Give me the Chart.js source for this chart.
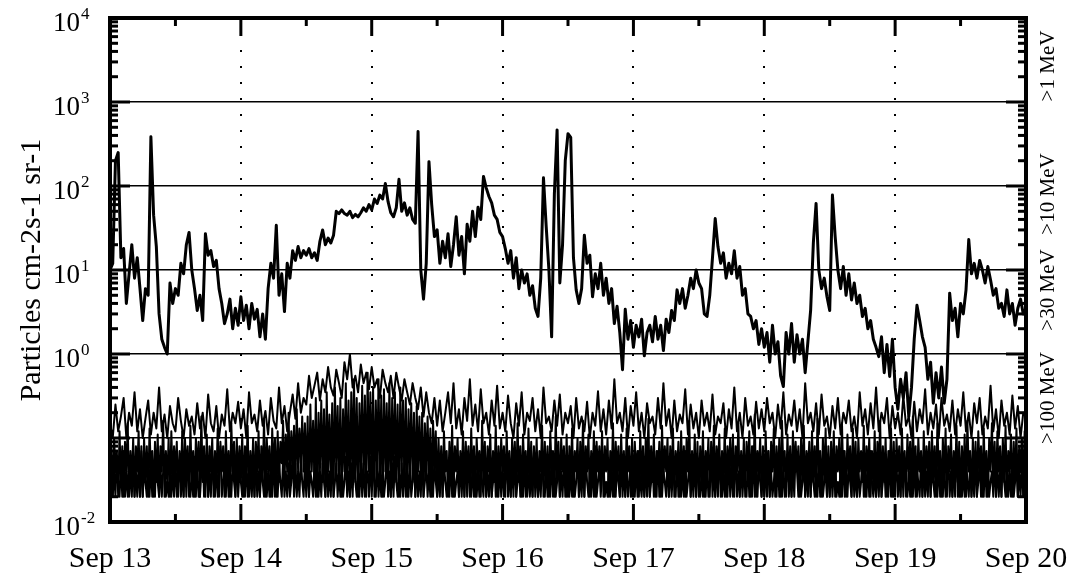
<!DOCTYPE html>
<html>
<head>
<meta charset="utf-8">
<script src="https://cdn.jsdelivr.net/npm/chart.js@4/dist/chart.umd.min.js"></script>
<style>
  html, body { margin: 0; padding: 0; background: #fff; }
  #plot { display: block; }
</style>
</head>
<body>
<canvas id="plot" width="1077" height="577"></canvas>
<script>
// hours from Sep 13 00:00; >1 and >10 MeV every 30 min, >30 and >100 MeV every 15 min
const step = 0.5;
const fineStep = 0.25;

// >1 MeV channel (particles cm-2 s-1 sr-1)
const mev1 = [
  10,12,200,250,14,18,4,9,20,8,14,6,2.5,6,5,385,45,19,3,1.5,1.2,1.0,7,4,
  6,5,12,9,20,28,10,6,3.3,5,2.5,27,15,17,11,13,6,4,2.3,3,4.5,2,3.5,2.2,
  4.8,2.5,3.8,2,4,2.6,3.4,1.6,3,1.5,6,12,8,34,5,9,3.2,12,8,17,13,19,14,17,
  15,18,14,16,13,22,30,20,24,21,26,50,47,52,47,45,50,42,46,43,48,55,50,60,
  52,70,62,78,70,107,65,48,43,55,120,50,63,45,55,40,36,445,10,4.5,12,195,60,25,
  30,12,22,14,27,11,20,43,15,25,9,35,22,50,25,56,40,130,95,75,63,45,40,28,
  25,18,12,17,8,14,6,10,7,9,5,6.5,3.5,2.8,8,125,33,10,1.6,80,465,7,20,200,
  420,380,14,5.8,4,6,26,12,15,4.8,9,6,12,5,8,4,6,2.3,3.7,1.8,0.65,3.4,1.5,2.5,
  1.2,2.2,1.6,2.6,0.95,1.8,2.2,1.4,2.8,1.5,2.2,1.1,2.6,1.8,3.3,2.5,5.8,4,6,3.5,5,8,6,10,
  7,6,3,2.8,5,14,41,19,12,16,8,12,9,17,8,11,5,6,3,2.8,2,2.5,1.3,2,
  1.2,1.8,0.8,2.2,1,1.4,0.55,0.41,1.8,1,2.3,0.8,1.7,1,1.5,0.6,1.4,3.3,21,62,10,6,8,4.8,
  3.3,78,25,10,6,11,5,9,4.4,7,4,5,2.8,3.5,2,2.5,1.5,1.2,0.93,1.6,0.6,1.3,0.54,1.5,
  0.4,0.22,0.5,0.3,0.6,0.18,0.4,1.5,3.8,2.5,1.6,1.2,0.5,0.8,0.26,0.6,0.3,0.7,0.26,0.5,5.3,2.5,3.5,1.6,
  4,3,5.8,23,9,12,8,13,10,7,11,7.6,5,6,3.5,4,2.8,5.8,3,4,2.2,3.5,4.5,3,
  3.5
];

// >10 MeV channel
const mev10 = [
  .15,.1,.25,.12,.18,.3,.1,.2,.14,.35,.12,.22,.1,.17,.28,.11,.2,.13,.4,.12,.19,.1,.24,.15,
  .12,.3,.16,.1,.22,.14,.18,.11,.26,.13,.2,.1,.33,.15,.12,.24,.1,.19,.14,.38,.12,.2,.15,.27,
  .13,.22,.1,.35,.15,.19,.12,.28,.14,.21,.11,.3,.16,.13,.4,.15,.24,.12,.2,.33,.17,.45,.2,.3,
  .25,.55,.3,.42,.6,.28,.5,.35,.7,.4,.32,.65,.45,.3,.8,.5,1.0,.4,.55,.35,.75,.45,.6,.38,
  .7,.4,.5,.3,.65,.45,.35,.55,.3,.6,.4,.28,.5,.35,.25,.45,.3,.22,.4,.18,.35,.2,.15,.3,
  .14,.28,.12,.2,.35,.15,.45,.13,.22,.11,.3,.16,.5,.14,.25,.12,.38,.15,.2,.11,.28,.14,.42,.13,
  .2,.12,.32,.15,.1,.26,.14,.35,.11,.2,.16,.3,.12,.22,.1,.4,.15,.18,.12,.28,.14,.33,.11,.2,
  .15,.24,.1,.3,.13,.18,.12,.27,.1,.2,.14,.36,.12,.22,.11,.28,.13,.5,.15,.2,.12,.3,.1,.24,
  .14,.35,.12,.2,.1,.26,.15,.18,.11,.3,.13,.45,.14,.22,.1,.28,.12,.19,.15,.38,.11,.25,.13,.2,
  .1,.28,.14,.2,.12,.33,.11,.18,.15,.26,.1,.22,.13,.4,.12,.2,.1,.3,.14,.18,.11,.27,.13,.22,
  .12,.3,.15,.2,.1,.25,.13,.35,.11,.19,.14,.28,.12,.22,.1,.45,.15,.2,.12,.26,.11,.33,.14,.18,
  .1,.24,.13,.3,.11,.2,.15,.28,.12,.18,.1,.35,.14,.22,.11,.26,.13,.4,.12,.2,.15,.3,.1,.24,
  .13,.2,.11,.32,.14,.18,.1,.27,.12,.22,.15,.38,.11,.2,.13,.25,.1,.3,.14,.19,.12,.28,.11,.22,
  .14,.35,.12,.2,.1,.26,.15,.3,.11,.18,.13,.42,.12,.22,.1,.28,.14,.2,.11,.32,.13,.24,.1,.2,
  .18
];

// >30 MeV channel (15 min samples)
const mev30 = [
  .03,.08,.02,.1,.04,.07,.02,.12,.03,.08,.02,.09,.04,.15,.02,.07,.03,.1,.02,.08,.04,.12,.02,.07,
  .02,.1,.03,.08,.02,.13,.04,.07,.02,.09,.03,.11,.02,.08,.04,.16,.02,.07,.03,.1,.02,.12,.03,.08,
  .04,.09,.02,.07,.03,.12,.02,.1,.04,.08,.02,.14,.03,.07,.02,.1,.04,.09,.02,.18,.03,.08,.02,.11,
  .02,.08,.04,.1,.02,.07,.03,.13,.02,.09,.04,.08,.02,.12,.03,.07,.02,.15,.04,.09,.02,.1,.03,.08,
  .03,.11,.02,.08,.04,.14,.02,.07,.03,.1,.02,.09,.04,.12,.02,.08,.03,.17,.02,.1,.04,.08,.02,.13,
  .04,.1,.02,.12,.03,.09,.05,.16,.03,.11,.04,.2,.03,.12,.05,.14,.03,.22,.04,.13,.05,.18,.04,.15,
  .03,.18,.02,.25,.04,.16,.03,.3,.02,.2,.04,.28,.03,.22,.02,.35,.04,.19,.03,.26,.02,.4,.04,.24,
  .03,.3,.02,.22,.04,.45,.03,.28,.02,.35,.04,.5,.03,.3,.02,.26,.04,.42,.03,.32,.02,.6,.04,.35,
  .03,.4,.02,.28,.04,.5,.03,.32,.02,.38,.04,.26,.03,.45,.02,.3,.04,.35,.03,.25,.02,.4,.04,.28,
  .03,.3,.02,.22,.04,.26,.03,.2,.02,.24,.04,.18,.03,.2,.02,.15,.04,.18,.03,.13,.02,.16,.04,.12,
  .02,.1,.03,.08,.02,.12,.04,.07,.02,.09,.03,.14,.02,.08,.04,.1,.02,.07,.03,.12,.02,.09,.04,.08,
  .02,.13,.03,.08,.02,.1,.04,.07,.02,.16,.03,.09,.02,.08,.04,.11,.02,.07,.03,.14,.02,.08,.03,.1,
  .04,.08,.02,.12,.03,.07,.02,.1,.04,.09,.02,.15,.03,.08,.02,.11,.04,.07,.02,.13,.03,.09,.02,.08,
  .03,.1,.02,.07,.04,.14,.02,.09,.03,.08,.02,.12,.04,.07,.02,.18,.03,.09,.02,.1,.04,.08,.02,.11,
  .02,.08,.03,.13,.02,.07,.04,.1,.02,.09,.03,.16,.02,.08,.04,.11,.02,.07,.03,.12,.02,.09,.04,.08,
  .03,.12,.02,.08,.04,.1,.02,.07,.03,.15,.02,.09,.04,.08,.02,.11,.03,.07,.02,.13,.04,.08,.02,.1,
  .02,.09,.04,.07,.02,.12,.03,.08,.02,.1,.04,.17,.02,.08,.03,.11,.02,.07,.04,.09,.02,.14,.03,.08,
  .04,.1,.02,.08,.03,.13,.02,.07,.04,.09,.02,.12,.03,.08,.02,.1,.04,.16,.02,.07,.03,.11,.02,.09,
  .02,.08,.03,.12,.02,.07,.04,.1,.02,.09,.03,.14,.02,.08,.04,.11,.02,.07,.03,.13,.02,.08,.04,.1,
  .03,.11,.02,.08,.04,.15,.02,.07,.03,.1,.02,.09,.04,.12,.02,.08,.03,.19,.02,.07,.04,.1,.02,.08,
  .02,.12,.03,.07,.02,.09,.04,.13,.02,.08,.03,.1,.02,.16,.04,.07,.02,.11,.03,.08,.02,.12,.04,.09,
  .04,.08,.02,.1,.03,.14,.02,.07,.04,.09,.02,.12,.03,.08,.02,.17,.04,.07,.02,.1,.03,.13,.02,.08,
  .02,.09,.03,.12,.02,.08,.04,.1,.02,.15,.03,.07,.02,.11,.04,.08,.02,.13,.03,.09,.02,.1,.04,.07,
  .03,.14,.02,.08,.04,.1,.02,.07,.03,.12,.02,.09,.04,.16,.02,.08,.03,.1,.02,.07,.04,.13,.02,.09,
  .02,.1,.04,.08,.02,.13,.03,.07,.02,.11,.04,.09,.02,.18,.03,.08,.02,.1,.04,.07,.02,.12,.03,.08,
  .04,.09,.02,.12,.03,.08,.02,.15,.04,.07,.02,.1,.03,.13,.02,.08,.04,.11,.02,.07,.03,.14,.02,.09,
  .02,.08,.03,.11,.02,.16,.04,.07,.02,.1,.03,.09,.02,.12,.04,.08,.02,.13,.03,.07,.02,.1,.04,.15,
  .03,.09,.02,.12,.04,.08,.02,.1,.03,.14,.02,.07,.04,.11,.02,.09,.03,.13,.02,.08,.04,.1,.02,.12,
  .03
];

// >100 MeV channel (15 min samples)
const mev100 = [
  .02,.05,.02,.04,.02,.06,.03,.02,.05,.02,.07,.02,.04,.02,.05,.03,.02,.06,.02,.04,.02,.05,.02,.08,
  .02,.04,.03,.02,.06,.02,.05,.02,.04,.02,.07,.03,.02,.05,.02,.04,.06,.02,.03,.02,.05,.02,.04,.02,
  .06,.02,.03,.05,.02,.04,.02,.07,.02,.05,.03,.02,.04,.02,.06,.02,.05,.02,.02,.04,.07,.02,.03,.05,
  .02,.04,.02,.06,.03,.02,.05,.02,.04,.08,.02,.03,.05,.02,.06,.02,.04,.02,.05,.03,.02,.07,.02,.04,
  .03,.02,.05,.02,.06,.02,.04,.03,.02,.05,.02,.07,.02,.04,.02,.05,.03,.02,.06,.02,.04,.02,.05,.02,
  .07,.02,.04,.02,.05,.03,.02,.06,.02,.04,.02,.05,.02,.03,.07,.02,.05,.02,.04,.02,.06,.03,.02,.05,
  .02,.06,.02,.04,.03,.02,.05,.02,.07,.02,.04,.02,.05,.03,.02,.06,.02,.04,.02,.08,.02,.03,.05,.02,
  .04,.02,.05,.02,.03,.06,.02,.04,.02,.05,.02,.07,.03,.02,.04,.02,.06,.02,.05,.02,.03,.04,.02,.06,
  .02,.05,.03,.02,.06,.02,.04,.02,.05,.02,.03,.07,.02,.04,.02,.05,.02,.06,.03,.02,.04,.02,.05,.02,
  .06,.02,.04,.02,.05,.02,.03,.06,.02,.05,.02,.04,.02,.07,.02,.03,.05,.02,.04,.02,.06,.02,.05,.03,
  .02,.04,.02,.07,.02,.05,.03,.02,.04,.02,.06,.02,.05,.02,.03,.04,.02,.06,.02,.05,.02,.08,.02,.04,
  .03,.02,.05,.02,.06,.02,.04,.02,.05,.03,.02,.07,.02,.04,.02,.05,.02,.03,.06,.02,.04,.02,.05,.02,
  .05,.02,.03,.06,.02,.04,.02,.05,.02,.07,.02,.03,.05,.02,.04,.02,.06,.02,.05,.03,.02,.04,.02,.07,
  .02,.05,.02,.04,.02,.06,.03,.02,.05,.02,.04,.02,.07,.02,.05,.02,.03,.06,.02,.04,.02,.05,.03,.02,
  .06,.02,.04,.02,.05,.02,.03,.07,.02,.04,.02,.05,.02,.06,.03,.02,.04,.02,.05,.02,.08,.02,.03,.05,
  .02,.04,.06,.02,.03,.02,.05,.02,.04,.02,.07,.02,.05,.03,.02,.06,.02,.04,.02,.05,.02,.03,.06,.02,
  .04,.02,.05,.02,.07,.03,.02,.04,.02,.05,.02,.06,.02,.03,.05,.02,.04,.02,.07,.02,.05,.02,.04,.03,
  .02,.06,.02,.05,.02,.04,.03,.02,.06,.02,.05,.02,.04,.02,.07,.02,.03,.05,.02,.04,.02,.06,.02,.05,
  .03,.02,.04,.02,.06,.02,.05,.02,.03,.07,.02,.04,.02,.05,.02,.06,.03,.02,.04,.02,.05,.02,.07,.02,
  .05,.02,.03,.06,.02,.04,.02,.05,.02,.04,.03,.02,.06,.02,.05,.02,.08,.02,.04,.02,.05,.03,.02,.04,
  .02,.05,.02,.07,.02,.04,.02,.03,.05,.02,.06,.02,.04,.02,.05,.02,.03,.06,.02,.04,.02,.05,.02,.07,
  .04,.02,.06,.02,.03,.05,.02,.04,.02,.07,.02,.05,.03,.02,.04,.02,.06,.02,.05,.02,.03,.04,.02,.06,
  .02,.05,.02,.04,.06,.02,.03,.02,.05,.02,.07,.02,.04,.02,.05,.03,.02,.06,.02,.04,.02,.05,.02,.03,
  .06,.02,.04,.02,.05,.02,.07,.03,.02,.04,.02,.05,.02,.06,.02,.03,.05,.02,.04,.02,.07,.02,.05,.02,
  .03,.05,.02,.04,.02,.06,.02,.05,.03,.02,.04,.02,.07,.02,.05,.02,.04,.03,.02,.06,.02,.05,.02,.04,
  .02,.07,.02,.04,.03,.02,.05,.02,.06,.02,.04,.02,.05,.02,.03,.06,.02,.04,.02,.05,.02,.08,.03,.02,
  .05,.02,.04,.02,.06,.03,.02,.05,.02,.04,.02,.07,.02,.03,.05,.02,.04,.02,.06,.02,.05,.02,.03,.04,
  .02,.06,.02,.05,.02,.04,.02,.07,.03,.02,.05,.02,.04,.02,.06,.02,.03,.05,.02,.04,.02,.05,.02,.06,
  .02
];

const dayLabels = ['Sep 13', 'Sep 14', 'Sep 15', 'Sep 16', 'Sep 17', 'Sep 18', 'Sep 19', 'Sep 20'];
const decades = [1e-2, 1e-1, 1e0, 1e1, 1e2, 1e3, 1e4];
const labelledExponents = [4, 3, 2, 1, 0, -2];
const channelNames = ['>1 MeV', '>10 MeV', '>30 MeV', '>100 MeV'];

const toPoints = (arr, dt) => arr.map((v, i) => ({ x: i * dt, y: v }));

const serif = '"Liberation Serif", "Times New Roman", serif';

function seg(ctx, x1, y1, x2, y2) {
  ctx.beginPath();
  ctx.moveTo(x1, y1);
  ctx.lineTo(x2, y2);
  ctx.stroke();
}

const axesPlugin = {
  id: 'axesPlugin',
  afterDraw(chart) {
    const { ctx, chartArea: a, scales: { x, y } } = chart;
    ctx.save();
    ctx.strokeStyle = '#000';
    ctx.fillStyle = '#000';
    ctx.lineCap = 'butt';

    // x ticks: majors each day, minors at noon, top and bottom
    ctx.lineWidth = 3;
    for (let h = 0; h <= 168; h += 12) {
      const px = x.getPixelForValue(h);
      const len = h % 24 === 0 ? 18 : 8;
      seg(ctx, px, a.bottom, px, a.bottom - len);
      seg(ctx, px, a.top, px, a.top + len);
    }
    // y ticks: decades long, 2..9 short, left and right
    decades.forEach(d => {
      const py = y.getPixelForValue(d);
      seg(ctx, a.left, py, a.left + 20, py);
      seg(ctx, a.right, py, a.right - 20, py);
      if (d < 1e4) {
        for (let k = 2; k <= 9; k++) {
          const pm = y.getPixelForValue(k * d);
          seg(ctx, a.left, pm, a.left + 8, pm);
          seg(ctx, a.right, pm, a.right - 8, pm);
        }
      }
    });

    // frame
    ctx.lineWidth = 4;
    ctx.strokeRect(a.left, a.top, a.right - a.left, a.bottom - a.top);

    // x labels
    ctx.font = '30px ' + serif;
    ctx.textAlign = 'center';
    ctx.textBaseline = 'alphabetic';
    dayLabels.forEach((lab, i) => {
      ctx.fillText(lab, x.getPixelForValue(i * 24), a.bottom + 45);
    });

    // y labels 10^n
    labelledExponents.forEach(e => {
      const py = y.getPixelForValue(Math.pow(10, e));
      ctx.font = '27px ' + serif;
      ctx.textAlign = 'right';
      ctx.fillText('10', a.left - 30, py + 13);
      ctx.font = '17px ' + serif;
      ctx.textAlign = 'left';
      ctx.fillText(String(e), a.left - 29, py + 1);
    });

    // y title
    ctx.save();
    ctx.translate(32, (a.top + a.bottom) / 2);
    ctx.rotate(-Math.PI / 2);
    ctx.font = '30px ' + serif;
    ctx.textAlign = 'center';
    ctx.textBaseline = 'middle';
    ctx.fillText('Particles cm-2s-1 sr-1', 0, 0);
    ctx.restore();

    // channel names on the right
    ctx.font = '21px ' + serif;
    channelNames.forEach((name, i) => {
      const py = [66, 194, 290, 398][i];
      ctx.save();
      ctx.translate(a.right + 22, py);
      ctx.rotate(-Math.PI / 2);
      ctx.textAlign = 'center';
      ctx.textBaseline = 'middle';
      ctx.fillText(name, 0, 0);
      ctx.restore();
    });
    ctx.restore();
  }
};

new Chart(document.getElementById('plot'), {
  type: 'line',
  data: {
    datasets: [
      { data: toPoints(mev100, fineStep), borderWidth: 2 },
      { data: toPoints(mev30, fineStep), borderWidth: 2 },
      { data: toPoints(mev10, step), borderWidth: 2 },
      { data: toPoints(mev1, step), borderWidth: 3 }
    ]
  },
  options: {
    responsive: false,
    animation: false,
    devicePixelRatio: 1,
    layout: { padding: { left: 110, top: 18, right: 51, bottom: 55 } },
    plugins: { legend: { display: false }, tooltip: { enabled: false } },
    elements: {
      point: { radius: 0 },
      line: { tension: 0, borderColor: '#000', borderJoinStyle: 'round' }
    },
    scales: {
      x: {
        type: 'linear',
        min: 0,
        max: 168,
        ticks: { display: false, stepSize: 24 },
        grid: {
          drawTicks: false,
          lineWidth: 2,
          color: c => (c.tick && (c.tick.value === 0 || c.tick.value === 168)) ? 'rgba(0,0,0,0)' : '#000'
        },
        border: { display: false, dash: [2, 14] }
      },
      y: {
        type: 'logarithmic',
        min: 0.01,
        max: 10000,
        ticks: { display: false },
        afterBuildTicks: s => { s.ticks = decades.map(v => ({ value: v })); },
        grid: {
          drawTicks: false,
          lineWidth: 1.5,
          color: c => (c.tick && (c.tick.value === 0.01 || c.tick.value === 10000)) ? 'rgba(0,0,0,0)' : '#000'
        },
        border: { display: false }
      }
    }
  },
  plugins: [axesPlugin]
});
</script>
</body>
</html>
